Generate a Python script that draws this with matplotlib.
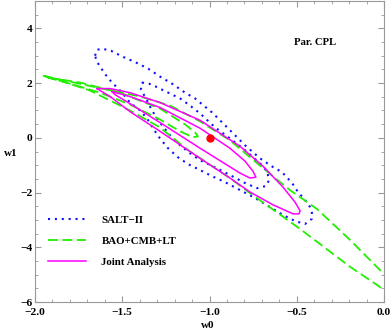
import matplotlib
matplotlib.use("Agg")
import matplotlib.pyplot as plt

# contour traces (w0, w1)
salt_2s_w0 = [-1.656, -1.645, -1.61, -1.564, -1.496, -1.421, -1.352, -1.284, -1.215, -1.14, -1.083,
              -0.986, -0.894, -0.797, -0.711, -0.636, -0.585, -0.527, -0.493, -0.453, -0.424, -0.413,
              -0.413, -0.453, -0.51, -0.579, -0.653, -0.739, -0.825, -0.911, -0.986, -1.054, -1.123,
              -1.181, -1.238, -1.284, -1.324, -1.358, -1.398, -1.456, -1.501, -1.53, -1.559, -1.582,
              -1.605, -1.622, -1.645, -1.656]
salt_2s_w1 = [3.0, 3.22, 3.25, 3.18, 2.96, 2.75, 2.53, 2.24, 1.98, 1.65, 1.44,
              0.93, 0.35, -0.27, -0.75, -1.07, -1.25, -1.65, -1.98, -2.27, -2.53, -2.75,
              -2.96, -3.15, -3.04, -2.82, -2.53, -2.2, -1.91, -1.62, -1.40, -1.18, -0.96,
              -0.71, -0.38, -0.02, 0.35, 0.71, 1.0, 1.29, 1.65, 1.84, 2.02, 2.2,
              2.38, 2.56, 2.78, 3.0]

salt_1s_w0 = [-1.387, -1.347, -1.307, -1.272, -1.169, -1.112, -1.054, -0.968, -0.883, -0.797, -0.711,
              -0.67, -0.659, -0.676, -0.728, -0.797, -0.883, -0.98, -1.054, -1.112, -1.169, -1.226,
              -1.284, -1.33, -1.364, -1.393, -1.387]
salt_1s_w1 = [2.02, 1.98, 1.87, 1.76, 1.44, 1.18, 0.89, 0.38, -0.02, -0.45, -0.93,
              -1.22, -1.55, -1.76, -1.84, -1.65, -1.36, -1.04, -0.82, -0.56, -0.27, 0.09,
              0.56, 1.0, 1.44, 1.76, 2.02]

bao_2s_w0 = [-1.954, -1.857, -1.645, -1.398, -1.226, -1.054, -0.883, -0.693, -0.539, -0.384, -0.195,
             0.0, 0.12, 0.25, 0.15, 0.0, -0.195, -0.481, -0.768, -0.883, -1.129, -1.284,
             -1.456, -1.685, -1.857, -1.954]
bao_2s_w1 = [2.27, 2.13, 1.84, 1.51, 1.18, 0.60, -0.09, -1.11, -1.91, -2.60, -3.73,
             -4.98, -5.72, -6.5, -6.2, -5.55, -4.71, -3.33, -2.02, -1.47, -0.42, 0.38,
             1.0, 1.73, 2.09, 2.27]

bao_1s_w0 = [-1.926, -1.742, -1.513, -1.284, -1.14, -1.083, -1.066, -1.095, -1.169, -1.284, -1.456,
             -1.628, -1.799, -1.926]
bao_1s_w1 = [2.2, 2.02, 1.65, 1.07, 0.49, 0.2, 0.05, 0.02, 0.24, 0.67, 1.22,
             1.65, 1.98, 2.2]

joint_2s_w0 = [-1.645, -1.57, -1.456, -1.284, -1.054, -0.825, -0.693, -0.579, -0.51, -0.481, -0.487,
               -0.521, -0.636, -0.768, -0.883, -1.054, -1.284, -1.456, -1.57, -1.628, -1.645]
joint_2s_w1 = [1.80, 1.80, 1.65, 1.29, 0.64, -0.31, -1.04, -1.80, -2.35, -2.67, -2.78,
               -2.78, -2.45, -1.98, -1.47, -0.75, 0.24, 0.96, 1.51, 1.73, 1.80]

joint_1s_w0 = [-1.559, -1.456, -1.284, -1.054, -0.883, -0.797, -0.751, -0.734,
               -0.768, -0.825, -1.054, -1.284, -1.456, -1.542, -1.559]
joint_1s_w1 = [1.69, 1.51, 1.11, 0.35, -0.38, -0.85, -1.22, -1.44,
               -1.47, -1.29, -0.38, 0.56, 1.25, 1.58, 1.69]

lcdm_w0, lcdm_w1 = [-1.0], [0.0]

plt.rcParams['font.family'] = ['Liberation Serif', 'DejaVu Serif']
plt.rcParams['font.weight'] = 'bold'

fig = plt.figure(figsize=(3.92, 3.31), dpi=100)
ax = fig.add_axes([35/392, 29/331, 349/392, 301/331])

blue = '#1010ff'
green = '#22ee00'
mag = '#ff00ff'
dot = (0, (1, 2.3))
dash = (0, (5.5, 2.5))

ax.plot(salt_2s_w0, salt_2s_w1, color=blue, lw=1.5, ls=dot, label='SALT\u2212II')
ax.plot(salt_1s_w0, salt_1s_w1, color=blue, lw=1.5, ls=dot)
ax.plot(bao_2s_w0, bao_2s_w1, color=green, lw=1.3, ls=dash, label='BAO+CMB+LT')
ax.plot(bao_1s_w0, bao_1s_w1, color=green, lw=1.3, ls=dash)
ax.plot(joint_2s_w0, joint_2s_w1, color=mag, lw=1.1, label='Joint Analysis')
ax.plot(joint_1s_w0, joint_1s_w1, color=mag, lw=1.1)
ax.plot(lcdm_w0, lcdm_w1, 'o', color='red', ms=5)

ax.set_xlim(-2, 0)
ax.set_ylim(-6, 5)
ax.set_xticks([-2.0, -1.5, -1.0, -0.5, 0.0])
ax.set_xticklabels(['\u22122.0', '\u22121.5', '\u22121.0', '\u22120.5', '0.0'])
ax.set_yticks([-6, -4, -2, 0, 2, 4])
ax.set_yticklabels(['\u22126', '\u22124', '\u22122', '0', '2', '4'])
ax.set_xticks([i / 10 - 2 for i in range(21)], minor=True)
ax.set_yticks([i / 2 - 6 for i in range(23)], minor=True)
ax.tick_params(which='both', direction='in', top=True, right=True, color='#999999',
               labelsize=8.2)
ax.tick_params(axis='x', pad=4)
ax.tick_params(axis='y', pad=2)
ax.tick_params(which='major', length=4, width=0.8)
ax.tick_params(which='minor', length=2, width=0.6)
for sp in ax.spines.values():
    sp.set_color('#999999')
    sp.set_linewidth(0.8)

ax.text(0.802, 0.861, 'Par. CPL', transform=ax.transAxes, fontsize=7.7, fontweight='bold',
        ha='center', va='center')
fig.text(208/392, 1 - 325/331, 'w0', fontsize=8, fontweight='bold', ha='center', va='center')
fig.text(10.5/392, 1 - 153/331, 'w1', fontsize=8, fontweight='bold', ha='center', va='center')

ax.legend(loc='upper left', bbox_to_anchor=(0.038, 0.287), frameon=False, fontsize=7.8,
          handlelength=3.5, handletextpad=1.4, labelspacing=1.05, borderpad=0,
          borderaxespad=0)

fig.savefig('out.png', dpi=100)
